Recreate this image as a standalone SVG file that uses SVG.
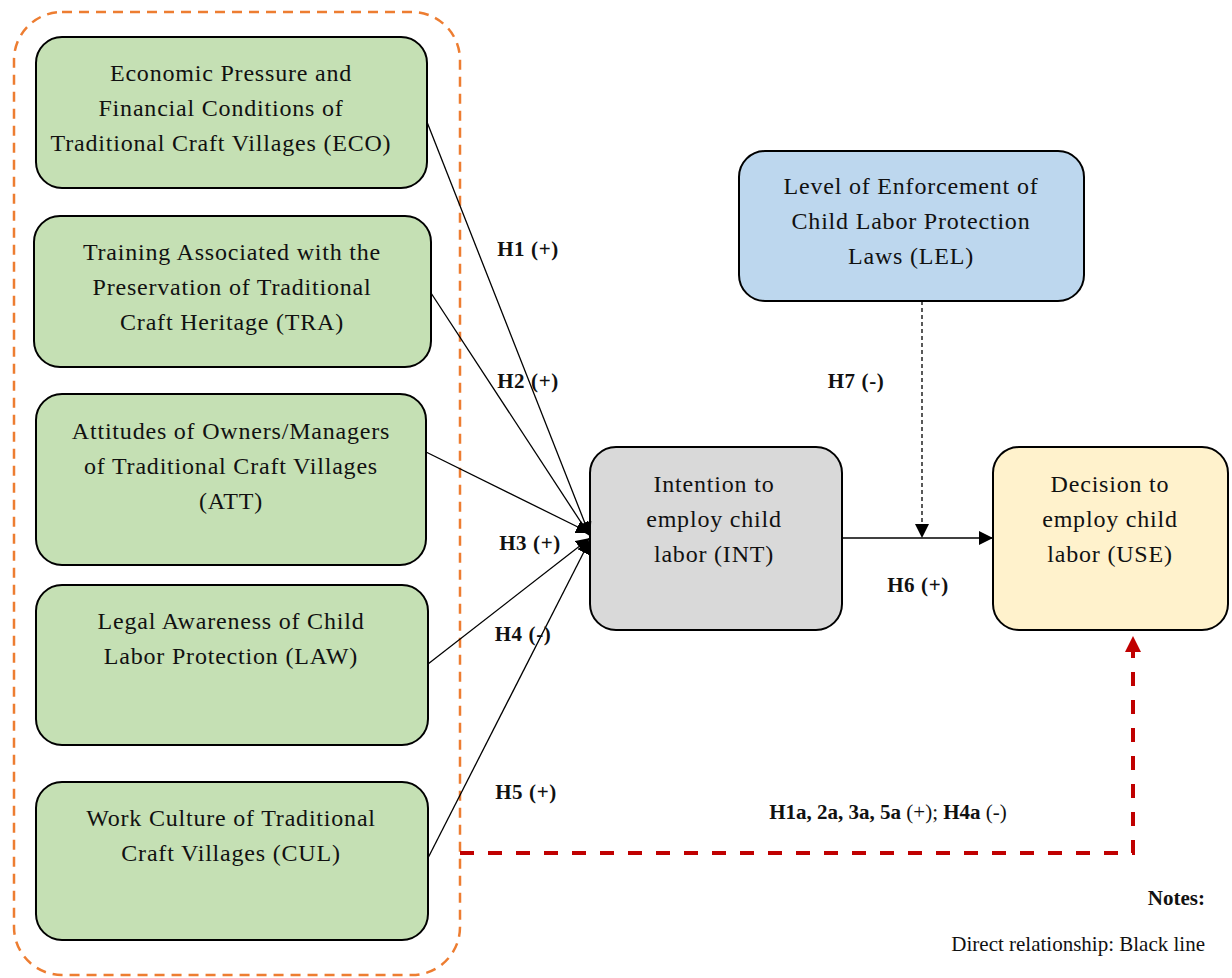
<svg xmlns="http://www.w3.org/2000/svg" width="1232" height="978" viewBox="0 0 1232 978">
<style>
.box{stroke:#000;stroke-width:2}
.t{font-family:"Liberation Serif","DejaVu Serif",serif;font-size:24px;letter-spacing:0.8px;fill:#111;text-anchor:middle}
.lb{font-family:"Liberation Serif","DejaVu Serif",serif;font-size:21px;letter-spacing:0.6px;font-weight:bold;fill:#111;text-anchor:middle}
.n{font-family:"Liberation Serif",serif;font-size:21px;fill:#111}
.c{stroke:#000;stroke-width:1.3;fill:none}
</style>
<defs>
<marker id="ah" viewBox="0 0 10 10" refX="10" refY="5" markerWidth="14" markerHeight="14" markerUnits="userSpaceOnUse" orient="auto"><path d="M0,0 L10,5 L0,10 Z" fill="#000"/></marker>
<marker id="ahr" viewBox="0 0 10 10" refX="10" refY="5" markerWidth="16" markerHeight="16" markerUnits="userSpaceOnUse" orient="auto"><path d="M0,0 L10,5 L0,10 Z" fill="#C00000"/></marker>
</defs>
<rect x="14" y="12" width="446" height="963" rx="48" fill="none" stroke="#ED7D31" stroke-width="2.5" stroke-dasharray="10 7"/>
<g id="ECO"><rect class="box" x="36" y="37" width="391" height="151" rx="26" fill="#C5E0B4"/>
<text class="t" x="231" y="81">Economic Pressure and</text><text class="t" x="221" y="116">Financial Conditions of</text><text class="t" x="221" y="151">Traditional Craft Villages (ECO)</text></g>
<g id="TRA"><rect class="box" x="34" y="216" width="397" height="151" rx="26" fill="#C5E0B4"/>
<text class="t" x="232" y="260">Training Associated with the</text><text class="t" x="232" y="295">Preservation of Traditional</text><text class="t" x="232" y="330">Craft Heritage (TRA)</text></g>
<g id="ATT"><rect class="box" x="36" y="394" width="390" height="171" rx="26" fill="#C5E0B4"/>
<text class="t" x="231" y="439">Attitudes of Owners/Managers</text><text class="t" x="231" y="474">of Traditional Craft Villages</text><text class="t" x="231" y="509">(ATT)</text></g>
<g id="LAW"><rect class="box" x="36" y="585" width="392" height="160" rx="26" fill="#C5E0B4"/>
<text class="t" x="231" y="629">Legal Awareness of Child</text><text class="t" x="231" y="664">Labor Protection (LAW)</text></g>
<g id="CUL"><rect class="box" x="36" y="782" width="392" height="158" rx="26" fill="#C5E0B4"/>
<text class="t" x="231" y="826">Work Culture of Traditional</text><text class="t" x="231" y="861">Craft Villages (CUL)</text></g>
<g id="LEL"><rect class="box" x="739" y="151" width="345" height="150" rx="26" fill="#BDD7EE"/>
<text class="t" x="911" y="194">Level of Enforcement of</text><text class="t" x="911" y="229">Child Labor Protection</text><text class="t" x="911" y="264">Laws (LEL)</text></g>
<g id="INT"><rect class="box" x="590" y="447" width="252" height="183" rx="26" fill="#D9D9D9"/>
<text class="t" x="714" y="492">Intention to</text><text class="t" x="714" y="527">employ child</text><text class="t" x="714" y="562">labor (INT)</text></g>
<g id="USE"><rect class="box" x="993" y="447" width="235" height="183" rx="26" fill="#FFF2CC"/>
<text class="t" x="1110" y="492">Decision to</text><text class="t" x="1110" y="527">employ child</text><text class="t" x="1110" y="562">labor (USE)</text></g>
<g id="connectors">
<line class="c" x1="427" y1="122" x2="590" y2="536" marker-end="url(#ah)"/>
<line class="c" x1="431" y1="293" x2="590" y2="536" marker-end="url(#ah)"/>
<line class="c" x1="426" y1="452" x2="590" y2="533" marker-end="url(#ah)"/>
<line class="c" x1="428" y1="664" x2="590" y2="538" marker-end="url(#ah)"/>
<line class="c" x1="428" y1="858" x2="590" y2="540" marker-end="url(#ah)"/>
<line class="c" x1="842" y1="538" x2="993" y2="538" marker-end="url(#ah)"/>
<line class="c" x1="922" y1="301" x2="922" y2="538" stroke-dasharray="4 3" marker-end="url(#ah)"/>
<path d="M460,853 H1133 V636" fill="none" stroke="#C00000" stroke-width="4" stroke-dasharray="14 14" marker-end="url(#ahr)"/>
</g>
<g id="labels">
<text class="lb" x="528" y="256">H1 (+)</text>
<text class="lb" x="528" y="388">H2 (+)</text>
<text class="lb" x="530" y="550">H3 (+)</text>
<text class="lb" x="523" y="641">H4 (-)</text>
<text class="lb" x="526" y="799">H5 (+)</text>
<text class="lb" x="856" y="388">H7 (-)</text>
<text class="lb" x="918" y="592">H6 (+)</text>
<text class="n" x="888" y="819" text-anchor="middle"><tspan font-weight="bold">H1a, 2a, 3a, 5a</tspan> (+); <tspan font-weight="bold">H4a</tspan> (-)</text>
<text class="n" x="1205" y="905" text-anchor="end" font-weight="bold">Notes:</text>
<text class="n" x="1205" y="951" text-anchor="end">Direct relationship: Black line</text>
</g>
</svg>
